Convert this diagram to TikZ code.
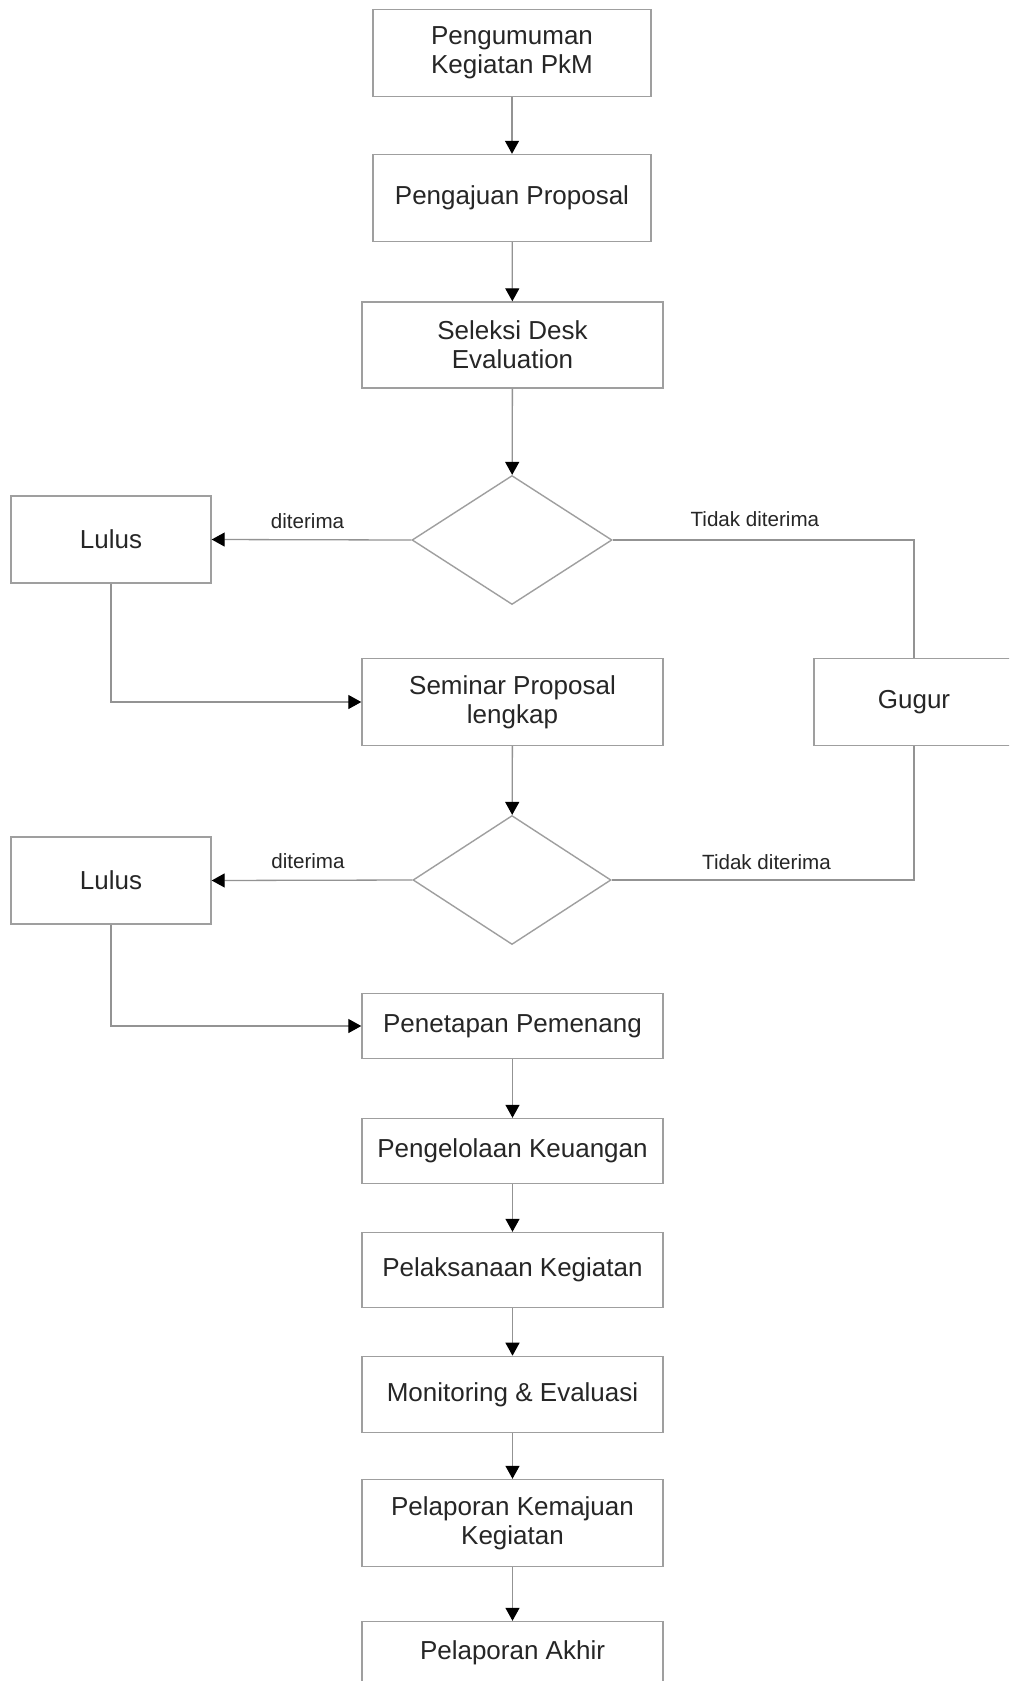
\documentclass[tikz,border=0pt]{standalone}
\usepackage{fontspec}
\setmainfont{Liberation Sans}
\usetikzlibrary{shapes.geometric,arrows.meta}

\tikzset{
  proses/.style={draw=gray!75, line width=.7pt, fill=white, rectangle,
    minimum width=139pt, minimum height=43.5pt, inner sep=0pt, align=center,
    text=black!85, font=\fontsize{13}{14.3}\selectfont},
  keputusan/.style={draw=gray!75, line width=.7pt, diamond, inner sep=0pt,
    minimum width=100pt, minimum height=64.5pt},
  garis/.style={draw=gray!85, line width=.65pt},
  panah/.style={garis, -{Triangle[length=6.5pt, width=7pt, color=black]}},
  lbl/.style={text=black!85, font=\fontsize{10.3}{12}\selectfont, inner sep=0pt}
}

\begin{document}
\begin{tikzpicture}[x=0.5pt, y=-0.5pt]
  \useasboundingbox (0,0) rectangle (1009,1681);
  \fill [white] (0,0) rectangle (1009,1681);
  \clip (0,0) rectangle (1009,1681);

  % alur utama
  \node [proses] (umum) at (512,53) {Pengumuman\\Kegiatan PkM};
  \node [proses] (ajuan) at (512,198) {Pengajuan Proposal};
  \node [proses, minimum width=150.5pt, minimum height=43pt] (seleksi) at (512.5,345) {Seleksi Desk\\Evaluation};
  \node [keputusan] (cek1) at (512,540) {};
  \node [proses, minimum width=100pt] (lulus1) at (111,539.5) {Lulus};
  \node [proses, minimum width=150.5pt] (seminar) at (512.5,702) {Seminar Proposal\\lengkap};
  \node [proses, minimum width=100pt] (gugur) at (914,702) {Gugur};
  \node [keputusan, minimum width=99pt] (cek2) at (512,880) {};
  \node [proses, minimum width=100pt] (lulus2) at (111,880.5) {Lulus};
  \node [proses, minimum width=150.5pt, minimum height=32.5pt] (tetap) at (512.5,1026) {Penetapan Pemenang};
  \node [proses, minimum width=150.5pt, minimum height=32.5pt] (kelola) at (512.5,1151) {Pengelolaan Keuangan};
  \node [proses, minimum width=150.5pt, minimum height=37.5pt] (laksana) at (512.5,1270) {Pelaksanaan Kegiatan};
  \node [proses, minimum width=150.5pt, minimum height=38pt] (monev) at (512.5,1394.4) {Monitoring \& Evaluasi};
  \node [proses, minimum width=150.5pt, minimum height=43.5pt] (maju) at (512.5,1523) {Pelaporan Kemajuan\\Kegiatan};
  \node [proses, minimum width=150.5pt, minimum height=31.5pt] (akhir) at (512.5,1653) {Pelaporan Akhir};

  % panah antar proses
  \draw [panah] (umum) -- (ajuan);
  \draw [panah] (ajuan) -- (seleksi);
  \draw [panah] (seleksi) -- (cek1);
  \draw [panah] (seminar) -- (cek2);
  \draw [panah] (tetap) -- (kelola);
  \draw [panah] (kelola) -- (laksana);
  \draw [panah] (laksana) -- (monev);
  \draw [panah] (monev) -- (maju);
  \draw [panah] (maju) -- (akhir);

  % cabang keputusan
  \draw [panah] (cek1.west) -- (lulus1.east) node [lbl, pos=.52, yshift=9.5pt] {diterima};
  \draw [panah] (cek2.west) -- (lulus2.east) node [lbl, pos=.52, yshift=9.5pt] {diterima};
  \draw [garis] (cek1.east) -| (gugur.north) node [lbl, pos=.236, yshift=10.5pt] {Tidak diterima};
  \draw [garis] (cek2.east) -| (gugur.south) node [lbl, pos=.256, yshift=9pt] {Tidak diterima};
  \draw [panah] (lulus1.south) |- (seminar.west);
  \draw [panah] (lulus2.south) |- (tetap.west);
\end{tikzpicture}
\end{document}
